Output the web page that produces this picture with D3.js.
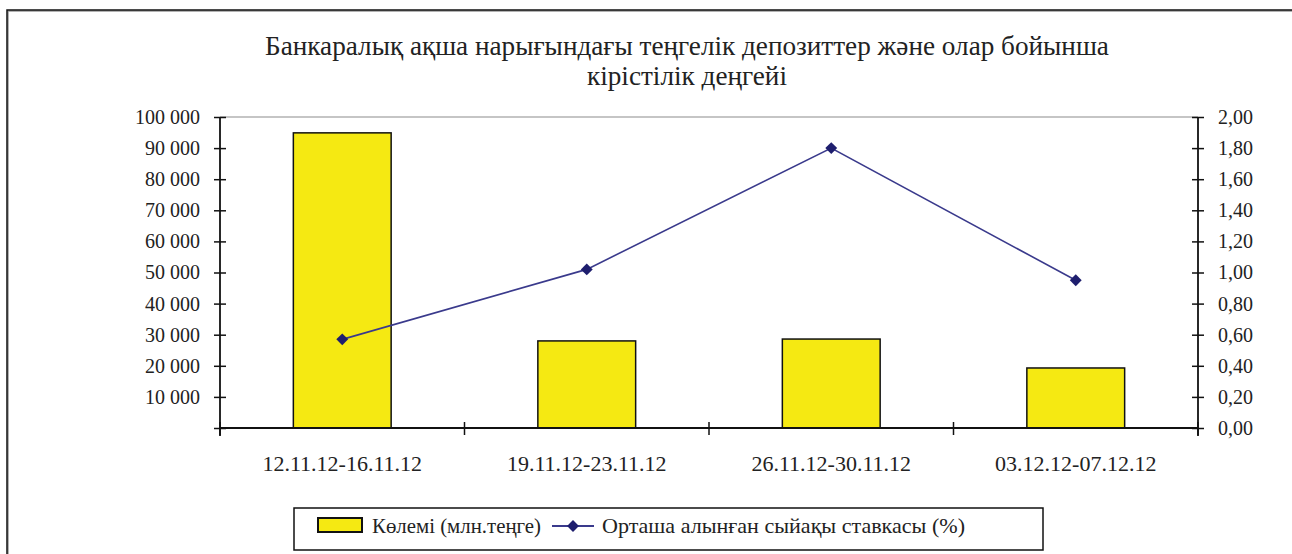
<!DOCTYPE html>
<html>
<head>
<meta charset="utf-8">
<script src="https://cdn.jsdelivr.net/npm/d3@7"></script>
<style>
  body { margin: 0; background: #fff; }
  svg { display: block; font-family: "Liberation Serif", "DejaVu Serif", serif; }
</style>
</head>
<body>
<svg id="chart"></svg>
<script>
// Chart data
const categories = ["12.11.12-16.11.12", "19.11.12-23.11.12", "26.11.12-30.11.12", "03.12.12-07.12.12"];
const volumes = [94900, 28000, 28600, 19300];
const rates = [0.57, 1.02, 1.80, 0.95];
const leftTicks = [0, 10000, 20000, 30000, 40000, 50000, 60000, 70000, 80000, 90000, 100000];
const rightTicks = [0, 0.2, 0.4, 0.6, 0.8, 1.0, 1.2, 1.4, 1.6, 1.8, 2.0];
const titleLines = ["Банкаралық ақша нарығындағы теңгелік депозиттер және олар бойынша", "кірістілік деңгейі"];
const legendNames = ["Көлемі (млн.теңге)", "Орташа алынған сыйақы ставкасы (%)"];

(function(){
    const W = 1292, H = 554;
    const plot = { left: 220, right: 1198, top: 117, bottom: 428 };

    const svg = d3.select("#chart").attr("width", W).attr("height", H);

    // outer frame (top and left edges visible)
    svg.append("path")
        .attr("d", `M8,${H} V11 H${W}`)
        .attr("fill", "none").attr("stroke", "#999").attr("stroke-width", 1.5);
    svg.append("path")
        .attr("d", `M7,${H} V10 H${W}`)
        .attr("fill", "none").attr("stroke", "#111").attr("stroke-width", 1.5);

    // title
    svg.append("text")
        .attr("x", 687).attr("y", 55)
        .attr("text-anchor", "middle")
        .attr("fill", "#222")
        .style("font-size", "27.2px")
        .selectAll("tspan")
        .data(titleLines)
        .enter().append("tspan")
        .attr("x", 687)
        .attr("dy", (d, i) => i === 0 ? 0 : 30)
        .text(d => d);

    const x = d3.scaleBand()
        .domain(categories)
        .range([plot.left, plot.right])
        .paddingInner(0)
        .paddingOuter(0);

    const yL = d3.scaleLinear().domain([0, 100000]).range([plot.bottom, plot.top]);
    const yR = d3.scaleLinear().domain([0, 2]).range([plot.bottom, plot.top]);

    const fmtL = v => v === 0 ? "" : d3.format(",")(v).replace(/,/g, " ");
    const fmtR = v => d3.format(".2f")(v).replace(".", ",");

    // top gridline
    svg.append("line")
        .attr("x1", plot.left).attr("x2", plot.right)
        .attr("y1", yL(100000)).attr("y2", yL(100000))
        .attr("stroke", "#8c8c8c").attr("stroke-width", 1.2);

    // bars
    const barW = x.bandwidth() * 0.4;
    svg.selectAll(".bar")
        .data(categories)
        .enter().append("rect")
        .attr("class", "bar")
        .attr("x", d => x(d) + (x.bandwidth() - barW) / 2)
        .attr("width", barW)
        .attr("y", (d, i) => yL(volumes[i]))
        .attr("height", (d, i) => plot.bottom - yL(volumes[i]))
        .attr("fill", "#f5e912")
        .attr("stroke", "#111")
        .attr("stroke-width", 1.5);

    // left axis
    const axL = svg.append("g")
        .attr("transform", `translate(${plot.left},0)`)
        .call(d3.axisLeft(yL).tickValues(leftTicks).tickFormat(fmtL).tickSize(6).tickPadding(14));
    axL.selectAll(".tick line").attr("x1", 6).attr("x2", -6);

    // right axis
    const axR = svg.append("g")
        .attr("transform", `translate(${plot.right},0)`)
        .call(d3.axisRight(yR).tickValues(rightTicks).tickFormat(fmtR).tickSize(6).tickPadding(14));
    axR.selectAll(".tick line").attr("x1", -6).attr("x2", 6);

    // bottom axis with ticks at band edges
    const axB = svg.append("g")
        .attr("transform", `translate(0,${plot.bottom})`)
        .call(d3.axisBottom(x).tickSize(0).tickPadding(27));
    axB.selectAll(".edge")
        .data(d3.range(categories.length + 1))
        .enter().append("line")
        .attr("class", "edge")
        .attr("x1", i => plot.left + i * x.step())
        .attr("x2", i => plot.left + i * x.step())
        .attr("y1", -6).attr("y2", 7)
        .attr("stroke", "#111").attr("stroke-width", 1.5);

    [axL, axR, axB].forEach(a => {
        a.select(".domain").attr("stroke", "#111").attr("stroke-width", 1.8);
        a.selectAll(".tick line").attr("stroke", "#111").attr("stroke-width", 1.5);
        a.selectAll("text")
            .attr("fill", "#222")
            .style("font-family", "'Liberation Serif', serif")
            .style("font-size", "20px");
    });
    axB.selectAll("text").style("font-size", "22px");
    axB.select(".domain").attr("d", `M${plot.left},0H${plot.right}`);
    axL.select(".domain").attr("d", `M0,${plot.bottom + 8}V${plot.top}`);
    axR.select(".domain").attr("d", `M0,${plot.bottom + 8}V${plot.top}`);

    // rate line
    const cx = d => x(d) + x.bandwidth() / 2;
    const line = d3.line()
        .x(d => cx(d))
        .y((d, i) => yR(rates[i]));
    svg.append("path")
        .datum(categories)
        .attr("d", line)
        .attr("fill", "none")
        .attr("stroke", "#3a3a8c")
        .attr("stroke-width", 1.6);

    const diamond = d3.symbol().type(d3.symbolDiamond2).size(90);
    svg.selectAll(".pt")
        .data(categories)
        .enter().append("path")
        .attr("class", "pt")
        .attr("transform", (d, i) => `translate(${cx(d)},${yR(rates[i])})`)
        .attr("d", diamond)
        .attr("fill", "#1e1e6e");

    // legend
    const lg = svg.append("g");
    lg.append("rect")
        .attr("x", 294).attr("y", 508).attr("width", 749).attr("height", 42)
        .attr("fill", "#fff").attr("stroke", "#111").attr("stroke-width", 1.5);
    lg.append("rect")
        .attr("x", 318).attr("y", 518).attr("width", 44).attr("height", 14)
        .attr("fill", "#f5e912").attr("stroke", "#111").attr("stroke-width", 2);
    lg.append("text")
        .attr("x", 372).attr("y", 533)
        .attr("textLength", 169).attr("lengthAdjust", "spacingAndGlyphs")
        .style("font-size", "21px").attr("fill", "#222")
        .text(legendNames[0]);
    lg.append("line")
        .attr("x1", 552).attr("x2", 594).attr("y1", 526).attr("y2", 526)
        .attr("stroke", "#3a3a8c").attr("stroke-width", 2);
    lg.append("path")
        .attr("transform", "translate(573,526)")
        .attr("d", diamond)
        .attr("fill", "#1e1e6e");
    lg.append("text")
        .attr("x", 602).attr("y", 533)
        .attr("textLength", 363).attr("lengthAdjust", "spacingAndGlyphs")
        .style("font-size", "22px").attr("fill", "#222")
        .text(legendNames[1]);
})();
</script>
</body>
</html>
